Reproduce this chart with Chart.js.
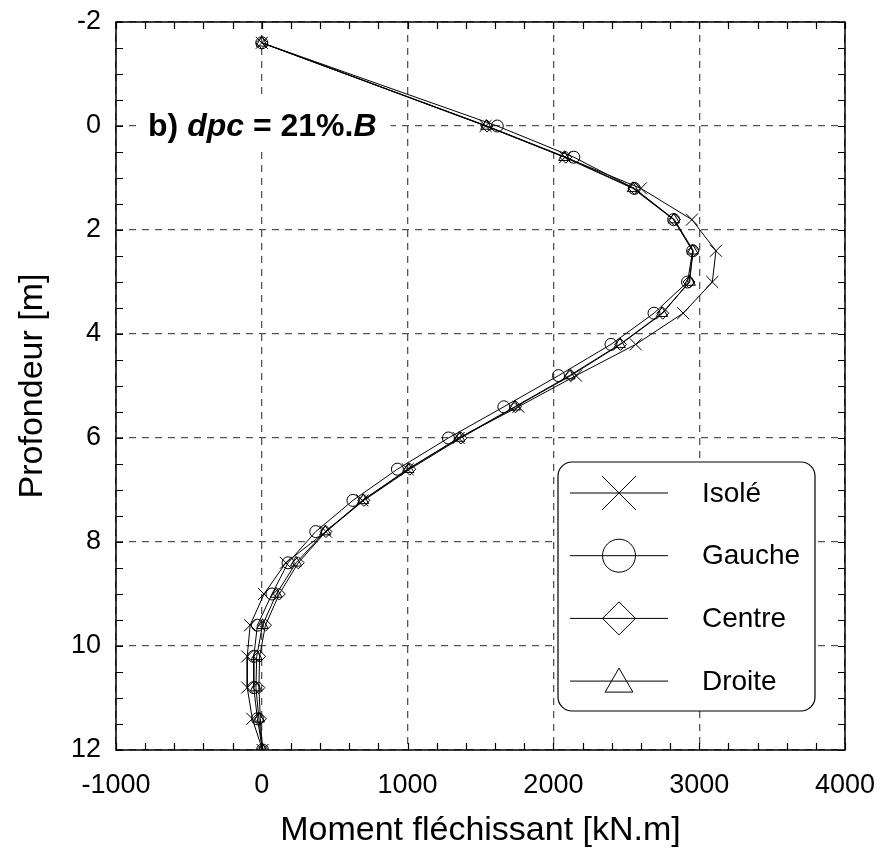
<!DOCTYPE html>
<html><head><meta charset="utf-8">
<script src="https://cdn.jsdelivr.net/npm/chart.js@4/dist/chart.umd.min.js"></script>
<style>html,body{margin:0;padding:0;background:#fff;}#wrap{width:881px;height:855px;}</style>
</head><body><div id="wrap"><canvas id="c" width="881" height="855"></canvas></div>
<script>
// Depth (m) of each computation node
const depth  = [-1.6, 0, 0.6, 1.2, 1.8, 2.4, 3.0, 3.6, 4.2, 4.8, 5.4, 6.0, 6.6, 7.2, 7.8, 8.4, 9.0, 9.6, 10.2, 10.8, 11.4, 12.0];
// Bending moment (kN.m) per pile
const isole  = [0, 1535, 2080, 2600, 2950, 3115, 3090, 2890, 2565, 2155, 1760, 1350, 1000, 690, 440, 165, 15, -80, -100, -100, -65, 5];
const gauche = [0, 1615, 2140, 2555, 2825, 2955, 2920, 2690, 2395, 2035, 1660, 1280, 930, 625, 370, 180, 70, -30, -55, -55, -30, 5];
const centre = [0, 1545, 2085, 2555, 2830, 2960, 2930, 2750, 2460, 2120, 1740, 1365, 1015, 700, 440, 250, 120, 25, -15, -20, -10, 5];
const droite = [0, 1540, 2075, 2545, 2825, 2955, 2935, 2745, 2455, 2110, 1735, 1355, 1005, 695, 435, 235, 100, 5, -35, -40, -20, 5];
const seriesNames = ['Isolé', 'Gauche', 'Centre', 'Droite'];
const xTickValues = [-1000, 0, 1000, 2000, 3000, 4000];
const yTickValues = [-2, 0, 2, 4, 6, 8, 10, 12];
const annotationParts = [['b) ', 'bold'], ['dpc', 'italic bold'], [' = 21%.', 'bold'], ['B', 'italic bold']];

const seriesValues = [isole, gauche, centre, droite];
const pointStyles = ['crossRot', 'circle', 'rectRot', 'triangle'];
const pointRadii = [8.5, 6, 6, 6.5];
const FONT = '"Liberation Sans", Arial, Helvetica, sans-serif';

const datasets = seriesNames.map((name, k) => ({
  label: name,
  data: depth.map((d, i) => ({x: seriesValues[k][i], y: d})),
  showLine: true,
  borderColor: '#000',
  borderWidth: 1,
  pointStyle: pointStyles[k],
  pointRadius: pointRadii[k],
  pointHoverRadius: pointRadii[k],
  pointBorderColor: '#000',
  pointBackgroundColor: 'rgba(0,0,0,0)',
  pointBorderWidth: 1,
  fill: false
}));

function fixBox(size, prop) {
  return s => {
    s[prop] = size;
    s.paddingLeft = 0; s.paddingRight = 0; s.paddingTop = 0; s.paddingBottom = 0;
  };
}

const decorPlugin = {
  id: 'decor',
  beforeDatasetsDraw(chart) {
    const {ctx, scales: {x, y}} = chart;
    ctx.save();
    let tx = x.getPixelForValue(-780);
    const ty = y.getPixelForValue(0);
    let total = 0;
    annotationParts.forEach(([t, f]) => { ctx.font = f + ' 32px ' + FONT; total += ctx.measureText(t).width; });
    ctx.fillStyle = '#fff';
    ctx.fillRect(tx - 11, ty - 27, total + 25, 50);
    ctx.fillStyle = '#000';
    ctx.textBaseline = 'middle';
    annotationParts.forEach(([t, f]) => {
      ctx.font = f + ' 32px ' + FONT;
      ctx.fillText(t, tx, ty + 1);
      tx += ctx.measureText(t).width;
    });
    ctx.restore();
  },
  afterDraw(chart) {
    const {ctx, chartArea: a, scales: {x, y}} = chart;
    ctx.save();
    // minor ticks (inward) on all four sides
    ctx.strokeStyle = '#000';
    ctx.lineWidth = 1.2;
    ctx.beginPath();
    for (let v = x.min; v <= x.max + 1e-6; v += 200) {
      const px = Math.round(x.getPixelForValue(v)) + 0.5;
      ctx.moveTo(px, a.top); ctx.lineTo(px, a.top + 7);
      ctx.moveTo(px, a.bottom); ctx.lineTo(px, a.bottom - 7);
    }
    for (let v = y.min; v <= y.max + 1e-6; v += 0.5) {
      const py = Math.round(y.getPixelForValue(v)) + 0.5;
      ctx.moveTo(a.left, py); ctx.lineTo(a.left + 7, py);
      ctx.moveTo(a.right, py); ctx.lineTo(a.right - 7, py);
    }
    ctx.stroke();
    // frame
    ctx.lineWidth = 1.5;
    ctx.strokeRect(a.left, a.top, a.right - a.left, a.bottom - a.top);

    // legend box
    const lx = 558, ly = 462, lw = 257, lh = 249, r = 14;
    ctx.beginPath();
    ctx.moveTo(lx + r, ly);
    ctx.lineTo(lx + lw - r, ly); ctx.arcTo(lx + lw, ly, lx + lw, ly + r, r);
    ctx.lineTo(lx + lw, ly + lh - r); ctx.arcTo(lx + lw, ly + lh, lx + lw - r, ly + lh, r);
    ctx.lineTo(lx + r, ly + lh); ctx.arcTo(lx, ly + lh, lx, ly + lh - r, r);
    ctx.lineTo(lx, ly + r); ctx.arcTo(lx, ly, lx + r, ly, r);
    ctx.closePath();
    ctx.fillStyle = '#fff';
    ctx.fill();
    ctx.lineWidth = 1.2;
    ctx.strokeStyle = '#000';
    ctx.stroke();
    const legRadii = [24, 16.5, 16.5, 16];
    seriesNames.forEach((name, k) => {
      const cy = 493 + k * 62.7;
      ctx.beginPath();
      ctx.lineWidth = 1;
      ctx.moveTo(570, cy); ctx.lineTo(668, cy);
      ctx.stroke();
      ctx.strokeStyle = '#000';
      ctx.fillStyle = 'rgba(0,0,0,0)';
      ctx.lineWidth = 1;
      Chart.helpers.drawPoint(ctx, {pointStyle: pointStyles[k], radius: legRadii[k], rotation: 0, borderWidth: 1}, 619, k === 3 ? cy + 3 : cy);
      ctx.fillStyle = '#000';
      ctx.font = '28px ' + FONT;
      ctx.textBaseline = 'middle';
      ctx.textAlign = 'left';
      ctx.fillText(name, 702, cy + 1);
    });
    ctx.restore();
  }
};

new Chart(document.getElementById('c'), {
  type: 'scatter',
  data: {datasets},
  options: {
    responsive: false,
    animation: false,
    devicePixelRatio: 1,
    layout: {autoPadding: false, padding: {left: 0, top: 0, right: 0, bottom: 0}},
    plugins: {legend: {display: false}, tooltip: {enabled: false}},
    scales: {
      x: {
        type: 'linear', min: -1000, max: 4000,
        afterBuildTicks: s => { s.ticks = xTickValues.map(v => ({value: v})); },
        afterFit: fixBox(105, 'height'),
        ticks: {autoSkip: false, maxRotation: 0, padding: 19, color: '#000', font: {family: FONT, size: 27}, callback: v => String(v)},
        grid: {color: '#555', lineWidth: 1.3, drawTicks: false},
        border: {display: false, dash: [7, 6]},
        title: {display: true, text: 'Moment fléchissant [kN.m]', color: '#000', font: {family: FONT, size: 34}, padding: {top: 0, bottom: 4}}
      },
      x2: {
        type: 'linear', axis: 'x', position: 'top', min: -1000, max: 4000,
        afterFit: fixBox(22, 'height'),
        ticks: {display: false}, grid: {display: false}, border: {display: false}
      },
      y: {
        type: 'linear', reverse: true, min: -2, max: 12,
        afterBuildTicks: s => { s.ticks = yTickValues.map(v => ({value: v})); },
        afterFit: fixBox(116, 'width'),
        ticks: {autoSkip: false, padding: 15, color: '#000', font: {family: FONT, size: 27}, callback: v => String(v)},
        grid: {color: '#555', lineWidth: 1.3, drawTicks: false},
        border: {display: false, dash: [7, 6]},
        title: {display: true, text: 'Profondeur [m]', color: '#000', font: {family: FONT, size: 34}, padding: {top: 12, bottom: 0}}
      },
      y2: {
        type: 'linear', axis: 'y', position: 'right', min: -2, max: 12,
        afterFit: fixBox(36, 'width'),
        ticks: {display: false}, grid: {display: false}, border: {display: false}
      }
    }
  },
  plugins: [decorPlugin]
});
</script>
</body></html>
